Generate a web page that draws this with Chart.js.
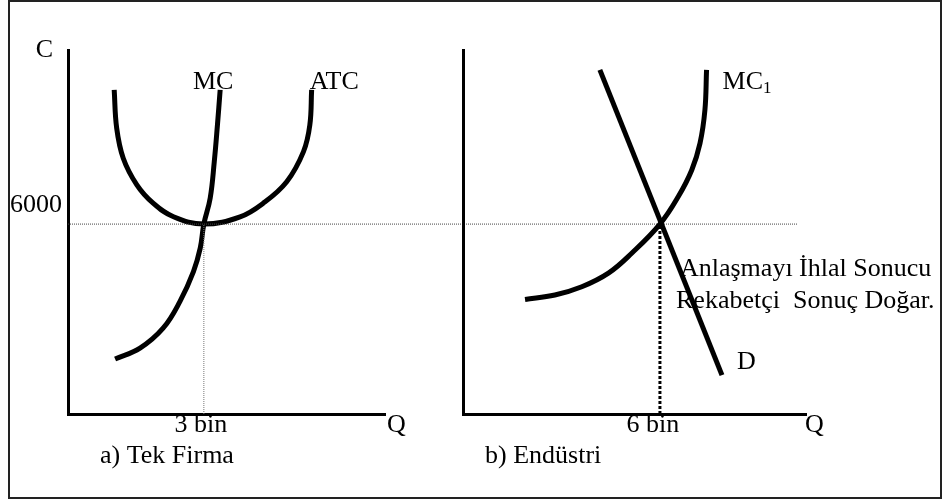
<!DOCTYPE html>
<html>
<head>
<meta charset="utf-8">
<script src="https://cdn.jsdelivr.net/npm/chart.js@4/dist/chart.umd.min.js"></script>
<style>
  body { margin: 0; background: #fff; }
  #wrap { position: relative; width: 943px; height: 502px; }
  #frame { position: absolute; left: 8px; top: 0; width: 934px; height: 499px; border: 2px solid #222; box-sizing: border-box; }
  canvas { position: absolute; left: 0; top: 0; }
</style>
</head>
<body>
<div id="wrap">
  <div id="frame"></div>
  <canvas id="firmChart" width="943" height="502"></canvas>
  <canvas id="industryChart" width="943" height="502"></canvas>
</div>
<script>
// a) firm: quantity in thousands, cost in TL
const atcQ = [1.02, 1.075, 1.22, 1.52, 1.88, 2.33, 3.0, 3.8, 4.31, 4.83, 5.2, 5.34, 5.38];
const atcC = [10240, 9030, 8080, 7240, 6660, 6230, 6000, 6230, 6660, 7340, 8290, 9130, 10240];
const mcQ = [1.04, 1.59, 2.1, 2.47, 2.77, 2.92, 3.0, 3.14, 3.23, 3.3, 3.36];
const mcC = [1740, 2080, 2710, 3550, 4500, 5240, 6000, 6820, 7970, 9130, 10240];

// b) industry
const mc1Q = [1.89, 2.8, 3.62, 4.43, 5.14, 6.0, 6.56, 6.97, 7.22, 7.37, 7.42];
const mc1C = [3620, 3760, 4020, 4450, 5080, 6000, 6870, 7710, 8550, 9600, 10870];
const demandQ = [4.17, 7.89];
const demandC = [10870, 1230];

const price = 6000;
const firmQ = 3;
const industryQ = 6;
const priceLabel = "6000";
const firmQLabel = "3 bin";
const industryQLabel = "6 bin";
const guideEndQ = 16.1; // horizontal guide runs across into panel b

const FONT = '"Liberation Serif", "Times New Roman", serif';
const pts = (xs, ys) => xs.map((x, i) => ({x: x, y: ys[i]}));

function curve(data, extra) {
  return Object.assign({
    data: data,
    borderColor: "#000",
    borderWidth: 5,
    pointRadius: 0,
    showLine: true,
    fill: false,
    tension: 0.4,
    borderCapStyle: "butt",
    clip: false
  }, extra || {});
}

function guide(data, color, width, dash) {
  return {
    data: data,
    borderColor: color,
    borderWidth: width,
    borderDash: dash,
    pointRadius: 0,
    showLine: true,
    fill: false,
    clip: false
  };
}

// text labels: anchored on data values or on the chart area
const textPlugin = {
  id: "texts",
  afterDraw(chart) {
    const items = chart.options.plugins.texts.items;
    const {ctx, chartArea} = chart;
    const sx = chart.scales.x, sy = chart.scales.y;
    ctx.save();
    ctx.fillStyle = "#000";
    ctx.textBaseline = "alphabetic";
    items.forEach(t => {
      let x, y;
      if (t.q !== undefined) {
        x = sx.getPixelForValue(t.q);
        y = sy.getPixelForValue(t.c);
      } else {
        x = t.ax === "right" ? chartArea.right : chartArea.left;
        y = t.ay === "top" ? chartArea.top : chartArea.bottom;
      }
      x += t.dx || 0;
      y += t.dy || 0;
      ctx.font = (t.size || 26) + "px " + FONT;
      ctx.textAlign = t.align || "left";
      ctx.fillText(t.text, x, y);
      if (t.sub) {
        const w = ctx.measureText(t.text).width;
        ctx.font = "17px " + FONT;
        ctx.textAlign = "left";
        ctx.fillText(t.sub, x + w, y + 4);
      }
    });
    ctx.restore();
  }
};

function makePanel(id, pad, xMax, datasets, opts) {
  return new Chart(document.getElementById(id), {
    type: "scatter",
    data: {datasets: datasets},
    plugins: [textPlugin],
    options: {
      responsive: false,
      animation: false,
      devicePixelRatio: 1,
      layout: {padding: pad},
      plugins: {
        legend: {display: false},
        tooltip: {enabled: false},
        texts: {items: opts.texts}
      },
      scales: {
        x: {
          type: "linear",
          min: 0,
          max: xMax,
          grid: {display: false, drawTicks: false},
          border: {display: true, color: "#000", width: 3},
          afterBuildTicks: s => { s.ticks = [{value: opts.qTick}]; },
          afterFit: s => { s.height = 88; },
          ticks: {
            callback: () => opts.qLabel,
            color: "#000",
            font: {family: FONT, size: 26},
            padding: -4,
            labelOffset: opts.qOffset,
            maxRotation: 0
          }
        },
        y: {
          type: "linear",
          min: 0,
          max: 11500,
          grid: {display: false, drawTicks: false},
          border: {display: true, color: "#000", width: opts.yBorder},
          afterBuildTicks: s => { s.ticks = [{value: price}]; },
          afterFit: s => { s.width = opts.yWidth; },
          ticks: {
            display: opts.showPrice,
            callback: () => priceLabel,
            color: "#000",
            font: {family: FONT, size: 26},
            padding: 6,
            labelOffset: -19
          }
        }
      }
    }
  });
}

makePanel("firmChart", {top: 50, left: 0, right: 558, bottom: 0}, 7, [
  guide([{x: 0, y: price}, {x: guideEndQ, y: price}], "#444", 1, [1, 1]),
  guide([{x: firmQ, y: 0}, {x: firmQ, y: price}], "#777", 1, [1, 1]),
  curve(pts(atcQ, atcC)),
  curve(pts(mcQ, mcC))
], {
  qTick: firmQ, qLabel: firmQLabel, qOffset: -3,
  showPrice: true, yWidth: 68, yBorder: 3,
  texts: [
    {text: "C", ax: "left", ay: "top", dx: -15, dy: 7, align: "right"},
    {text: "Q", ax: "right", ay: "bottom", dx: 2, dy: 18},
    {text: "a) Tek Firma", ax: "left", ay: "bottom", dx: 32, dy: 49},
    {text: "MC", q: 3.36, c: 10240, dx: -7, dy: -1, align: "center"},
    {text: "ATC", q: 5.38, c: 10240, dx: -2, dy: -1}
  ]
});

makePanel("industryChart", {top: 50, left: 463, right: 137, bottom: 0}, 10.45, [
  guide([{x: industryQ, y: 0}, {x: industryQ, y: price}], "#000", 3, [3, 2]),
  curve(pts(mc1Q, mc1C)),
  curve(pts(demandQ, demandC), {tension: 0})
], {
  qTick: industryQ, qLabel: industryQLabel, qOffset: -7,
  showPrice: false, yWidth: 0, yBorder: 3,
  texts: [
    {text: "Q", ax: "right", ay: "bottom", dx: -1, dy: 18},
    {text: "b) Endüstri", ax: "left", ay: "bottom", dx: 22, dy: 49},
    {text: "MC", sub: "1", q: 7.42, c: 10870, dx: 16, dy: 19},
    {text: "D", q: 7.89, c: 1230, dx: 15, dy: -6},
    {text: "Anlaşmayı İhlal Sonucu", q: 6.61, c: 4360},
    {text: "Rekabetçi  Sonuç Doğar.", q: 6.49, c: 3350}
  ]
});
</script>
</body>
</html>
